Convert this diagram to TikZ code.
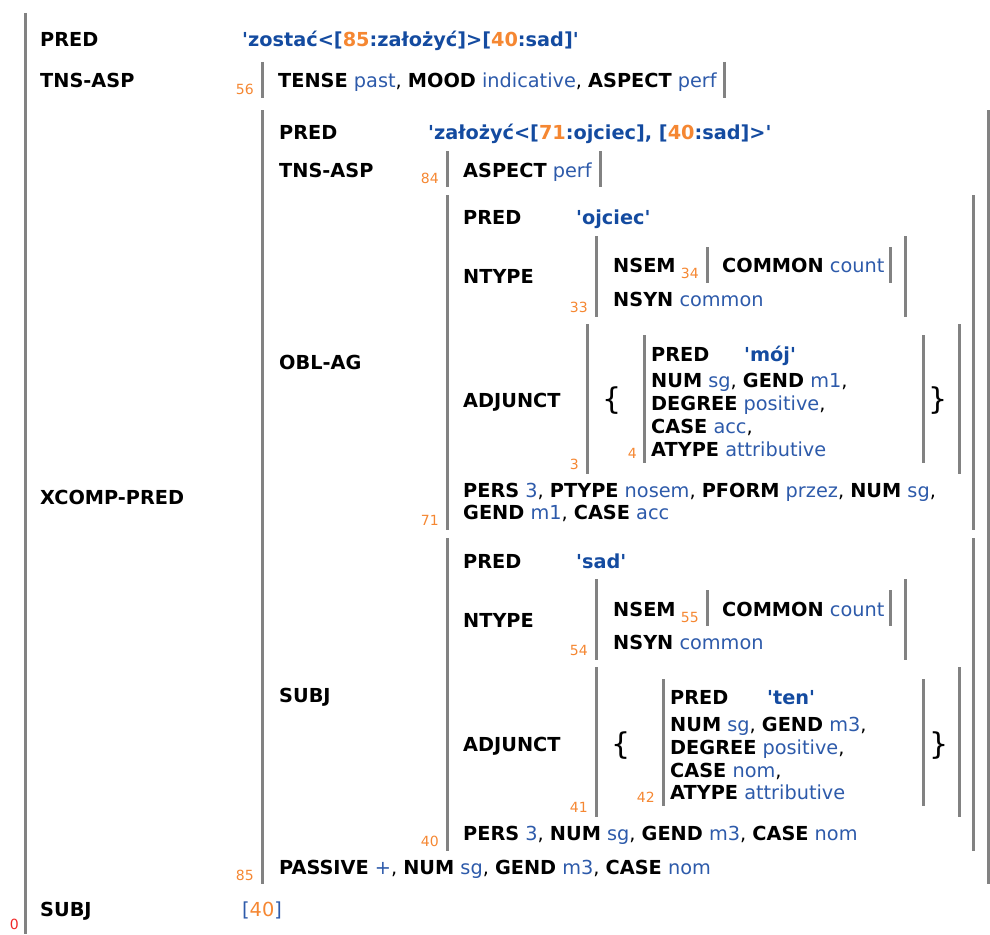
\documentclass[tikz,border=0pt]{standalone}
\usepackage{fontspec}
\setmainfont{DejaVu Sans}[Ligatures=TeXOff]
\definecolor{valblue}{RGB}{45,90,170}
\definecolor{predblue}{RGB}{20,75,160}
\definecolor{idxorange}{RGB}{245,135,50}
\definecolor{bargray}{RGB}{130,130,130}
\definecolor{rootred}{RGB}{240,40,40}
\newcommand{\fa}[1]{\textbf{#1}}
\newcommand{\fv}[1]{\textcolor{valblue}{#1}}
\newcommand{\fno}[1]{\textcolor{idxorange}{#1}}
\begin{document}
\begin{tikzpicture}[x=1pt,y=-1pt,font=\fontsize{19.3}{23}\selectfont,
  attr/.style={anchor=base west,inner sep=0pt},
  sform/.style={attr,text=predblue,font=\fontsize{19.3}{23}\selectfont\bfseries},
  idx/.style={anchor=base east,inner sep=0pt,text=idxorange,font=\fontsize{14}{16}\selectfont},
  fbar/.style={bargray,line width=3pt},
  setbrace/.style={anchor=center,inner sep=0pt,font=\fontsize{30}{32}\selectfont}]
\useasboundingbox (0,0) rectangle (990,934);
% outer f-structure
\draw[fbar] (25,13)--(25,934);
\node[idx,text=rootred] (n0) at (19,929) {0};
\node[attr] (pred0) at (40,47) {\fa{PRED}};
\node[sform] (sf0) at (242,47) {'zostać<[\fno{85}:założyć]>[\fno{40}:sad]'};
\node[attr] (tns0) at (40,87) {\fa{TNS-ASP}};
\draw[fbar] (262,62)--(262,98) (724,62)--(724,98);
\node[idx] (n56) at (254,94) {56};
\node[attr] (tense0) at (278,87) {\fa{TENSE} \fv{past}, \fa{MOOD} \fv{indicative}, \fa{ASPECT} \fv{perf}};
\node[attr] (xcomp) at (40,504) {\fa{XCOMP-PRED}};
\node[attr] (subj0) at (40,916) {\fa{SUBJ}};
\node[attr] (subjref) at (242,916) {\fv{[}\fno{40}\fv{]}};
% XCOMP-PRED
\draw[fbar] (262,110)--(262,884) (988,110)--(988,884);
\node[idx] (n85) at (254,880) {85};
\node[attr] (pred1) at (279,139) {\fa{PRED}};
\node[sform] (sf1) at (428,139) {'założyć<[\fno{71}:ojciec], [\fno{40}:sad]>'};
\node[attr] (tns1) at (279,177) {\fa{TNS-ASP}};
\draw[fbar] (447,151)--(447,187) (600,151)--(600,187);
\node[idx] (n84) at (439,183) {84};
\node[attr] (asp1) at (463,177) {\fa{ASPECT} \fv{perf}};
\node[attr] (oblag) at (279,369) {\fa{OBL-AG}};
\node[attr] (subj1) at (279,702) {\fa{SUBJ}};
\node[attr] (pass1) at (279,874) {\fa{PASSIVE} \fv{+}, \fa{NUM} \fv{sg}, \fa{GEND} \fv{m3}, \fa{CASE} \fv{nom}};
% OBL-AG
\draw[fbar] (447,195)--(447,530) (973,195)--(973,530);
\node[idx] (n71) at (439,525) {71};
\node[attr] (pred2) at (463,224) {\fa{PRED}};
\node[sform] (sf2) at (576,224) {'ojciec'};
\node[attr] (ntype2) at (463,283) {\fa{NTYPE}};
\draw[fbar] (596,236)--(596,317) (905,236)--(905,317);
\node[idx] (n33) at (588,312) {33};
\node[attr] (nsem2) at (613,272) {\fa{NSEM}};
\draw[fbar] (707,247)--(707,283) (890,247)--(890,283);
\node[idx] (n34) at (699,278) {34};
\node[attr] (comm2) at (722,272) {\fa{COMMON} \fv{count}};
\node[attr] (nsyn2) at (613,306) {\fa{NSYN} \fv{common}};
\node[attr] (adj2) at (463,407) {\fa{ADJUNCT}};
\draw[fbar] (587,324)--(587,474) (959,324)--(959,474);
\node[idx] (n3) at (579,469) {3};
\node[setbrace] (lb2) at (612,401) {\{};
\node[setbrace] (rb2) at (938,401) {\}};
\draw[fbar] (644,335)--(644,463) (923,335)--(923,463);
\node[idx] (n4) at (637,458) {4};
\node[attr] (pred3) at (651,361) {\fa{PRED}};
\node[sform] (sf3) at (744,361) {'mój'};
\node[attr] (num3) at (651,387) {\fa{NUM} \fv{sg}, \fa{GEND} \fv{m1},};
\node[attr] (deg3) at (651,410) {\fa{DEGREE} \fv{positive},};
\node[attr] (case3) at (651,433) {\fa{CASE} \fv{acc},};
\node[attr] (atype3) at (651,456) {\fa{ATYPE} \fv{attributive}};
\node[attr] (pers2) at (463,497) {\fa{PERS} \fv{3}, \fa{PTYPE} \fv{nosem}, \fa{PFORM} \fv{przez}, \fa{NUM} \fv{sg},};
\node[attr] (gend2) at (463,519) {\fa{GEND} \fv{m1}, \fa{CASE} \fv{acc}};
% SUBJ
\draw[fbar] (447,538)--(447,851) (973,538)--(973,851);
\node[idx] (n40) at (439,846) {40};
\node[attr] (pred4) at (463,568) {\fa{PRED}};
\node[sform] (sf4) at (576,568) {'sad'};
\node[attr] (ntype4) at (463,627) {\fa{NTYPE}};
\draw[fbar] (596,579)--(596,660) (905,579)--(905,660);
\node[idx] (n54) at (588,655) {54};
\node[attr] (nsem4) at (613,616) {\fa{NSEM}};
\draw[fbar] (707,590)--(707,626) (890,590)--(890,626);
\node[idx] (n55) at (699,622) {55};
\node[attr] (comm4) at (722,616) {\fa{COMMON} \fv{count}};
\node[attr] (nsyn4) at (613,649) {\fa{NSYN} \fv{common}};
\node[attr] (adj4) at (463,751) {\fa{ADJUNCT}};
\draw[fbar] (596,667)--(596,817) (959,667)--(959,817);
\node[idx] (n41) at (588,812) {41};
\node[setbrace] (lb4) at (621,746) {\{};
\node[setbrace] (rb4) at (939,746) {\}};
\draw[fbar] (663,679)--(663,806) (923,679)--(923,806);
\node[idx] (n42) at (655,802) {42};
\node[attr] (pred5) at (670,704) {\fa{PRED}};
\node[sform] (sf5) at (767,704) {'ten'};
\node[attr] (num5) at (670,731) {\fa{NUM} \fv{sg}, \fa{GEND} \fv{m3},};
\node[attr] (deg5) at (670,754) {\fa{DEGREE} \fv{positive},};
\node[attr] (case5) at (670,777) {\fa{CASE} \fv{nom},};
\node[attr] (atype5) at (670,799) {\fa{ATYPE} \fv{attributive}};
\node[attr] (pers4) at (463,840) {\fa{PERS} \fv{3}, \fa{NUM} \fv{sg}, \fa{GEND} \fv{m3}, \fa{CASE} \fv{nom}};
\end{tikzpicture}
\end{document}
